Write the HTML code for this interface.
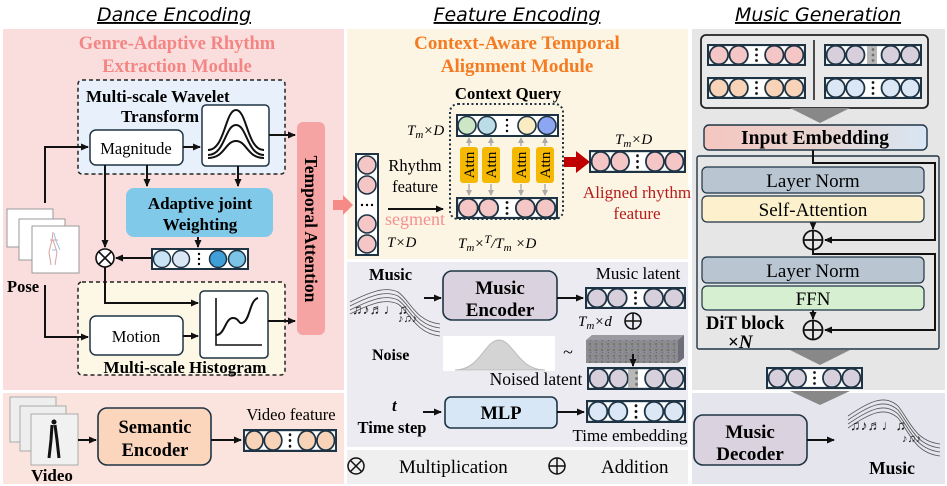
<!DOCTYPE html>
<html><head><meta charset="utf-8"><style>
body{margin:0;background:#fff}
svg{display:block}
.s{font-family:"Liberation Serif",serif}
.b{font-weight:bold}
.t{font-family:"DejaVu Sans","Liberation Sans",sans-serif;font-style:italic;font-size:19px;text-decoration:underline}
</style></head><body>
<svg width="947" height="486" viewBox="0 0 947 486" xmlns="http://www.w3.org/2000/svg">
<defs>
<symbol id="bar" viewBox="0 0 100 22" preserveAspectRatio="none">
<rect x="1" y="1" width="98" height="20" fill="#fff" stroke="#1e3445" stroke-width="2.2"/>
<circle cx="12" cy="11" r="9.3" stroke="#1e3445" stroke-width="1.8"/>
<circle cx="32" cy="11" r="9.3" stroke="#1e3445" stroke-width="1.8"/>
<circle cx="68" cy="11" r="9.3" stroke="#1e3445" stroke-width="1.8"/>
<circle cx="88" cy="11" r="9.3" stroke="#1e3445" stroke-width="1.8"/>
<circle cx="50" cy="5.5" r="1.4" fill="#111"/><circle cx="50" cy="11" r="1.4" fill="#111"/><circle cx="50" cy="16.5" r="1.4" fill="#111"/>
</symbol>
<marker id="a" markerWidth="8" markerHeight="8" refX="7" refY="4" orient="auto" markerUnits="userSpaceOnUse"><path d="M0,0.5 L8,4 L0,7.5z" fill="#111"/></marker>
<marker id="g" markerWidth="6" markerHeight="6" refX="5" refY="3" orient="auto" markerUnits="userSpaceOnUse"><path d="M0,0 L6,3 L0,6z" fill="#aaa"/></marker>
<pattern id="nz" width="6" height="6" patternUnits="userSpaceOnUse"><rect width="6" height="6" fill="#8a8a90"/><rect x="1" y="1" width="2" height="2" fill="#6c7a66"/><rect x="4" y="3" width="1" height="2" fill="#a08c9a"/><rect x="2" y="4" width="1" height="1" fill="#5f6a80"/></pattern>
<linearGradient id="ie" x1="0" x2="1"><stop offset="0" stop-color="#f5c6c0"/><stop offset="0.5" stop-color="#e8d4cf"/><stop offset="1" stop-color="#d8e6f4"/></linearGradient>
</defs>

<!-- titles -->
<text x="174" y="21" text-anchor="middle" class="t">Dance Encoding</text>
<text x="517" y="21" text-anchor="middle" class="t">Feature Encoding</text>
<text x="818" y="21" text-anchor="middle" class="t">Music Generation</text>

<!-- panels -->
<rect x="3" y="29" width="341" height="361" fill="#f9dedd"/>
<rect x="3" y="393" width="341" height="91" fill="#fbe4dd"/>
<rect x="347" y="29" width="341" height="230" fill="#fdf5e3"/>
<rect x="347" y="262" width="341" height="185" fill="#ebebf1"/>
<rect x="347" y="450" width="341" height="34" fill="#efefef"/>
<rect x="692" y="29" width="253" height="361" fill="#e6e6e6"/>
<rect x="692" y="393" width="253" height="91" fill="#e5e5ee"/>

<!-- ===== LEFT ===== -->
<text x="177" y="49" text-anchor="middle" class="s b" font-size="18.5" fill="#f38584">Genre-Adaptive Rhythm</text>
<text x="177" y="72" text-anchor="middle" class="s b" font-size="18.5" fill="#f38584">Extraction Module</text>

<rect x="78" y="80" width="207" height="94" rx="4" fill="#e8f1fb" stroke="#222" stroke-width="1.5" stroke-dasharray="4,3"/>
<text x="86" y="102" class="s b" font-size="17">Multi-scale Wavelet</text>
<text x="160" y="122" text-anchor="middle" class="s b" font-size="17">Transform</text>
<rect x="90" y="130" width="93" height="35" rx="6" fill="#fff" stroke="#1e3445" stroke-width="1.5"/>
<text x="136" y="154" text-anchor="middle" class="s" font-size="16.5">Magnitude</text>
<rect x="202" y="105" width="67" height="61" rx="4" fill="#fff" stroke="#1e3445" stroke-width="1.5"/>
<g fill="none" stroke="#111" stroke-width="2">
<path d="M208,150 C225,150 225,110 236,110 C247,110 247,150 264,150"/>
<path d="M208,155 C225,155 225,125 236,125 C247,125 247,155 264,155"/>
<path d="M208,158 C225,158 225,141 236,141 C247,141 247,158 264,158"/>
</g>

<rect x="297" y="122" width="28" height="213" rx="6" fill="#f5a3a3"/>
<text transform="translate(305,229) rotate(90)" text-anchor="middle" class="s b" font-size="17.5">Temporal Attention</text>

<rect x="78" y="282" width="207" height="93" rx="4" fill="#fdf8e6" stroke="#222" stroke-width="1.5" stroke-dasharray="4,3"/>
<rect x="200" y="291" width="68" height="67" rx="4" fill="#fff" stroke="#1e3445" stroke-width="1.5"/>
<path d="M216,298 V345 H262" fill="none" stroke="#111" stroke-width="1.6"/>
<path d="M216,335 C225,335 225,318 233,318 C240,318 238,326 244,322 C250,318 250,300 258,298" fill="none" stroke="#111" stroke-width="2"/>
<rect x="90" y="316" width="93" height="39" rx="6" fill="#fff" stroke="#1e3445" stroke-width="1.5"/>
<text x="136" y="342" text-anchor="middle" class="s" font-size="16.5">Motion</text>
<text x="185" y="373" text-anchor="middle" class="s b" font-size="17">Multi-scale Histogram</text>

<rect x="126" y="188" width="147" height="49" rx="8" fill="#80c9e9"/>
<text x="200" y="209" text-anchor="middle" class="s b" font-size="17">Adaptive joint</text>
<text x="200" y="230" text-anchor="middle" class="s b" font-size="17">Weighting</text>

<g>
<rect x="152" y="249" width="96" height="20" fill="#fff" stroke="#1e3445" stroke-width="2"/>
<circle cx="162" cy="259" r="8.5" fill="#c9e3f4" stroke="#1e3445" stroke-width="1.5"/>
<circle cx="181" cy="259" r="8.5" fill="#dbe6f4" stroke="#1e3445" stroke-width="1.5"/>
<circle cx="218" cy="259" r="8.5" fill="#3f9fd6" stroke="#1e3445" stroke-width="1.5"/>
<circle cx="237" cy="259" r="8.5" fill="#7cc3e6" stroke="#1e3445" stroke-width="1.5"/>
<circle cx="199" cy="254" r="1.2"/><circle cx="199" cy="259" r="1.2"/><circle cx="199" cy="264" r="1.2"/>
</g>

<circle cx="105" cy="258" r="9" fill="#fff" stroke="#111" stroke-width="1.6"/>
<path d="M99,252 L111,264 M111,252 L99,264" stroke="#111" stroke-width="1.6"/>

<!-- pose images -->
<rect x="7" y="209" width="46" height="38" fill="#fff" stroke="#999" stroke-width="1"/>
<rect x="19" y="219" width="46" height="41" fill="#fff" stroke="#999" stroke-width="1"/>
<rect x="32" y="226" width="47" height="47" fill="#fff" stroke="#999" stroke-width="1"/>
<path d="M53,232 L52,240 L49,252 L51,265 M53,240 L57,252 L55,265 M50,240 L58,240" fill="none" stroke="#d9a0a0" stroke-width="1"/>
<path d="M54,233 L56,241 L60,250 M52,250 L56,250" fill="none" stroke="#9cc4dc" stroke-width="1"/>
<text x="7" y="292" class="s b" font-size="16.5">Pose</text>

<g fill="none" stroke="#111" stroke-width="2">
<path d="M45,203 V147 H88" marker-end="url(#a)"/>
<path d="M45,285 V337 H88" marker-end="url(#a)"/>
<path d="M183,147 H200" marker-end="url(#a)"/>
<path d="M269,135 H295" marker-end="url(#a)"/>
<path d="M147,165 V186" marker-end="url(#a)"/>
<path d="M238,166 V186" marker-end="url(#a)"/>
<path d="M198,237 V247" marker-end="url(#a)"/>
<path d="M105,165 V247" marker-end="url(#a)"/>
<path d="M151,258 H116" marker-end="url(#a)"/>
<path d="M105,267 V303 H198" marker-end="url(#a)"/>
<path d="M183,336 H198" marker-end="url(#a)"/>
<path d="M268,321 H295" marker-end="url(#a)"/>
</g>

<!-- video -->
<rect x="10" y="397" width="46" height="45" fill="#eee" stroke="#aaa"/>
<rect x="20" y="406" width="46" height="45" fill="#eee" stroke="#aaa"/>
<rect x="31" y="414" width="47" height="51" fill="#f1f1f1" stroke="#aaa"/>
<path d="M52,425 L51,440 L49,458 M55,425 L57,440 L59,458" stroke="#111" stroke-width="3"/>
<circle cx="54" cy="422" r="2.5" fill="#111"/>
<text x="52" y="481" text-anchor="middle" class="s b" font-size="17">Video</text>
<rect x="98" y="408" width="113" height="57" rx="9" fill="#fbd6bd" stroke="#1e3445" stroke-width="1.6"/>
<text x="155" y="433" text-anchor="middle" class="s b" font-size="18.5">Semantic</text>
<text x="155" y="456" text-anchor="middle" class="s b" font-size="18.5">Encoder</text>
<text x="291" y="420" text-anchor="middle" class="s" font-size="16.5">Video feature</text>
<use href="#bar" x="243" y="429" width="94" height="23" fill="#f9d3b8"/>
<g fill="none" stroke="#111" stroke-width="2">
<path d="M78,440 H96" marker-end="url(#a)"/>
<path d="M211,440 H241" marker-end="url(#a)"/>
</g>

<!-- ===== MIDDLE TOP ===== -->
<text x="517" y="49" text-anchor="middle" class="s b" font-size="19" fill="#f47b22">Context-Aware Temporal</text>
<text x="517" y="72" text-anchor="middle" class="s b" font-size="19" fill="#f47b22">Alignment Module</text>
<text x="508" y="99" text-anchor="middle" class="s b" font-size="16.7">Context Query</text>
<rect x="450" y="104" width="113" height="115" rx="8" fill="none" stroke="#1e3445" stroke-width="2" stroke-dasharray="2,2.5"/>
<rect x="457" y="115" width="101" height="21" fill="#fff" stroke="#1e3445" stroke-width="2"/>
<circle cx="467" cy="125.5" r="9" fill="#cce6c6" stroke="#1e3445" stroke-width="1.6"/>
<circle cx="487" cy="125.5" r="9" fill="#bcdce8" stroke="#1e3445" stroke-width="1.6"/>
<circle cx="527" cy="125.5" r="9" fill="#fbecc4" stroke="#1e3445" stroke-width="1.6"/>
<circle cx="547" cy="125.5" r="9" fill="#8ca6f4" stroke="#1e3445" stroke-width="1.6"/>
<rect x="499" y="116" width="16" height="19" fill="#fff"/>
<circle cx="507" cy="120" r="1.2"/><circle cx="507" cy="125.5" r="1.2"/><circle cx="507" cy="131" r="1.2"/>
<use href="#bar" x="456" y="197" width="102" height="22" fill="#f5c6c6"/>
<g>
<rect x="460" y="147" width="18" height="36" rx="3" fill="#f6b902"/>
<rect x="482" y="147" width="18" height="36" rx="3" fill="#f6b902"/>
<rect x="512" y="147" width="18" height="36" rx="3" fill="#f6b902"/>
<rect x="536" y="147" width="18" height="36" rx="3" fill="#f6b902"/>
<text transform="translate(474,165) rotate(-90)" text-anchor="middle" class="s" font-size="15">Attn</text>
<text transform="translate(496,165) rotate(-90)" text-anchor="middle" class="s" font-size="15">Attn</text>
<text transform="translate(526,165) rotate(-90)" text-anchor="middle" class="s" font-size="15">Attn</text>
<text transform="translate(550,165) rotate(-90)" text-anchor="middle" class="s" font-size="15">Attn</text>
</g>
<g stroke="#aaa" stroke-width="1.4">
<path d="M469,146 V138" marker-end="url(#g)"/><path d="M491,146 V138" marker-end="url(#g)"/><path d="M521,146 V138" marker-end="url(#g)"/><path d="M545,146 V138" marker-end="url(#g)"/>
<path d="M469,184 V195" marker-end="url(#g)"/><path d="M491,184 V195" marker-end="url(#g)"/><path d="M521,184 V195" marker-end="url(#g)"/><path d="M545,184 V195" marker-end="url(#g)"/>
</g>
<text x="407" y="135" class="s" font-size="15" font-style="italic">T<tspan font-size="11" dy="3">m</tspan><tspan dy="-3">×D</tspan></text>

<!-- vertical rhythm bar -->
<path d="M333,200 H343 V195 L353,205 L343,215 V210 H333z" fill="#f58a86"/>
<rect x="356" y="154" width="22" height="101" fill="#fff" stroke="#1e3445" stroke-width="2"/>
<circle cx="367" cy="165" r="9" fill="#f5c6c6" stroke="#1e3445" stroke-width="1.6"/>
<circle cx="367" cy="185" r="9" fill="#f5c6c6" stroke="#1e3445" stroke-width="1.6"/>
<circle cx="367" cy="224" r="9" fill="#f5c6c6" stroke="#1e3445" stroke-width="1.6"/>
<circle cx="367" cy="244" r="9" fill="#f5c6c6" stroke="#1e3445" stroke-width="1.6"/>
<circle cx="362" cy="205" r="1.2"/><circle cx="367" cy="205" r="1.2"/><circle cx="372" cy="205" r="1.2"/>
<text x="415" y="171" text-anchor="middle" class="s" font-size="16.5">Rhythm</text>
<text x="415" y="192" text-anchor="middle" class="s" font-size="16.5">feature</text>
<path d="M388,209 H443" stroke="#111" stroke-width="2" marker-end="url(#a)"/>
<text x="415" y="225" text-anchor="middle" class="s" font-size="18" fill="#f59090">segment</text>
<text x="387" y="247" class="s" font-size="15" font-style="italic">T×D</text>
<text x="458" y="248" class="s" font-size="15" font-style="italic">T<tspan font-size="11" dy="3">m</tspan><tspan dy="-3">×</tspan><tspan font-size="12" dy="-5">T</tspan><tspan dy="5">/T</tspan><tspan font-size="11" dy="3">m</tspan><tspan dy="-3"> ×D</tspan></text>

<path d="M564,157 H576 V151 L590,162 L576,173 V167 H564z" fill="#c00000"/>
<text x="615" y="144" class="s" font-size="15" font-style="italic">T<tspan font-size="11" dy="3">m</tspan><tspan dy="-3">×D</tspan></text>
<use href="#bar" x="589" y="150" width="97" height="23" fill="#f5c6c6"/>
<text x="637" y="198" text-anchor="middle" class="s" font-size="17" fill="#b51c1c">Aligned rhythm</text>
<text x="637" y="219" text-anchor="middle" class="s" font-size="17" fill="#b51c1c">feature</text>

<!-- ===== MIDDLE MID ===== -->
<text x="369" y="280" class="s b" font-size="16.5">Music</text>
<g stroke="#555" stroke-width="0.8" fill="none">
<path d="M350,306 C370,296 385,290 398,296 C410,304 415,325 440,328"/>
<path d="M350,310 C370,300 385,294 398,300 C410,308 415,329 440,332"/>
<path d="M350,314 C370,304 385,298 398,304 C410,312 415,333 440,336"/>
<path d="M350,302 C370,292 385,286 398,292 C410,300 415,321 440,324"/>
</g>
<text x="352" y="314" font-size="14" fill="#222">♫♪♬♩♫</text>
<text x="398" y="322" font-size="11" fill="#222">♪♫♪</text>
<path d="M424,298 H441" stroke="#111" stroke-width="2" marker-end="url(#a)"/>
<rect x="443" y="271" width="114" height="49" rx="9" fill="#dad3df" stroke="#1e3445" stroke-width="1.6"/>
<text x="500" y="294" text-anchor="middle" class="s b" font-size="19">Music</text>
<text x="500" y="316" text-anchor="middle" class="s b" font-size="19">Encoder</text>
<path d="M557,298 H583" stroke="#111" stroke-width="2" marker-end="url(#a)"/>
<text x="638" y="279" text-anchor="middle" class="s" font-size="17">Music latent</text>
<use href="#bar" x="585" y="287" width="101" height="22" fill="#d7cfdc"/>
<text x="578" y="326" class="s" font-size="15" font-style="italic">T<tspan font-size="11" dy="3">m</tspan><tspan dy="-3">×d</tspan></text>
<circle cx="633" cy="321" r="8" fill="none" stroke="#111" stroke-width="1.6"/>
<path d="M625,321 H641 M633,313 V329" stroke="#111" stroke-width="1.6"/>

<text x="372" y="360" class="s b" font-size="16">Noise</text>
<rect x="443" y="336" width="112" height="35" fill="#fff"/>
<path d="M455,370 C480,370 485,340 499,340 C513,340 518,370 545,370z" fill="#d4d4d4" stroke="#bbb"/>
<text x="568" y="358" text-anchor="middle" class="s" font-size="18">~</text>
<path d="M586,340 L592,335 H684 L678,340z" fill="#9a9aa0"/>
<path d="M678,340 L684,335 V358 L678,363z" fill="#6e6e76"/>
<rect x="586" y="340" width="92" height="23" fill="url(#nz)"/>
<path d="M633,354 V366" stroke="#111" stroke-width="2" marker-end="url(#a)"/>
<text x="536" y="385" text-anchor="middle" class="s" font-size="17.5">Noised latent</text>
<use href="#bar" x="587" y="367" width="99" height="23" fill="#d7cfdc"/>
<rect x="628" y="369" width="10" height="19" fill="#9a9a9a" opacity="0.7"/>

<text x="392" y="411" class="s b" font-size="16.5" font-style="italic">t</text>
<text x="392" y="433" text-anchor="middle" class="s b" font-size="16.5">Time step</text>
<path d="M423,412 H441" stroke="#111" stroke-width="2" marker-end="url(#a)"/>
<rect x="445" y="397" width="112" height="31" rx="6" fill="#d8e7f5" stroke="#1e3445" stroke-width="1.6"/>
<text x="501" y="419" text-anchor="middle" class="s b" font-size="18.5">MLP</text>
<path d="M557,412 H584" stroke="#111" stroke-width="2" marker-end="url(#a)"/>
<use href="#bar" x="586" y="400" width="100" height="23" fill="#dbe7f5"/>
<text x="630" y="441" text-anchor="middle" class="s" font-size="17">Time embedding</text>

<!-- legend -->
<circle cx="356" cy="466" r="8" fill="none" stroke="#111" stroke-width="1.5"/>
<path d="M350.5,460.5 L361.5,471.5 M361.5,460.5 L350.5,471.5" stroke="#111" stroke-width="1.5"/>
<text x="399" y="473" class="s" font-size="19">Multiplication</text>
<circle cx="557" cy="466" r="8" fill="none" stroke="#111" stroke-width="1.5"/>
<path d="M549,466 H565 M557,458 V474" stroke="#111" stroke-width="1.5"/>
<text x="601" y="473" class="s" font-size="19">Addition</text>

<!-- ===== RIGHT ===== -->
<rect x="701" y="35" width="227" height="73" rx="5" fill="#e9e9e9" stroke="#222" stroke-width="1.8"/>
<use href="#bar" x="707" y="44" width="99" height="22" fill="#f5c6c6"/>
<use href="#bar" x="707" y="77" width="99" height="22" fill="#f9d3b8"/>
<path d="M814,40 V100" stroke="#222" stroke-width="1.6"/>
<rect x="824" y="44" width="98" height="22" fill="url(#nz)" opacity="0.6"/>
<use href="#bar" x="824" y="44" width="98" height="22" fill="#d7cfdc"/>
<rect x="867" y="46" width="10" height="18" fill="#9a9a9a" opacity="0.7"/>
<use href="#bar" x="824" y="77" width="98" height="22" fill="#dbe7f5"/>
<path d="M790,108 H850 L820,123z" fill="#888"/>
<rect x="704" y="125" width="223" height="25" rx="5" fill="url(#ie)" stroke="#1e3445" stroke-width="1.4"/>
<text x="815" y="144" text-anchor="middle" class="s b" font-size="19.5">Input Embedding</text>

<rect x="697" y="156" width="242" height="193" rx="2" fill="none" stroke="#1e3445" stroke-width="1.4"/>
<g fill="none" stroke="#111" stroke-width="2">
<path d="M813,150 V163 H935 V240 H825" marker-end="url(#a)"/>
<path d="M813,250 V254 H935 V330 H825" marker-end="url(#a)"/>
<path d="M813,222 V229" marker-end="url(#a)"/>
<path d="M813,309 V319" marker-end="url(#a)"/>
</g>
<rect x="702" y="167" width="222" height="26" rx="5" fill="#b9c6d2" stroke="#1e3445" stroke-width="1.2"/>
<text x="813" y="187" text-anchor="middle" class="s" font-size="19">Layer Norm</text>
<rect x="702" y="196" width="222" height="26" rx="5" fill="#fcf1cc" stroke="#1e3445" stroke-width="1.2"/>
<text x="813" y="216" text-anchor="middle" class="s" font-size="19">Self-Attention</text>
<circle cx="813" cy="240" r="9.5" fill="none" stroke="#111" stroke-width="1.8"/>
<path d="M803.5,240 H822.5 M813,230.5 V249.5" stroke="#111" stroke-width="1.8"/>
<rect x="702" y="257" width="222" height="26" rx="5" fill="#b9c6d2" stroke="#1e3445" stroke-width="1.2"/>
<text x="813" y="277" text-anchor="middle" class="s" font-size="19">Layer Norm</text>
<rect x="702" y="286" width="222" height="24" rx="5" fill="#d6efd1" stroke="#1e3445" stroke-width="1.2"/>
<text x="813" y="305" text-anchor="middle" class="s" font-size="19">FFN</text>
<circle cx="813" cy="330" r="9.5" fill="none" stroke="#111" stroke-width="1.8"/>
<path d="M803.5,330 H822.5 M813,320.5 V339.5" stroke="#111" stroke-width="1.8"/>
<text x="706" y="329" class="s b" font-size="18.5">DiT block</text>
<text x="728" y="348" class="s b" font-size="19">×<tspan font-style="italic">N</tspan></text>

<path d="M790,350 H850 L820,365z" fill="#888"/>
<use href="#bar" x="766" y="367" width="97" height="22" fill="#d7cfdc"/>
<path d="M790,391 H850 L820,405z" fill="#888"/>

<rect x="694" y="415" width="113" height="50" rx="9" fill="#dad3df" stroke="#1e3445" stroke-width="1.6"/>
<text x="750" y="438" text-anchor="middle" class="s b" font-size="19">Music</text>
<text x="750" y="460" text-anchor="middle" class="s b" font-size="19">Decoder</text>
<path d="M807,440 H834" stroke="#111" stroke-width="2" marker-end="url(#a)"/>
<g stroke="#555" stroke-width="0.8" fill="none">
<path d="M848,420 C870,405 885,398 898,410 C910,425 915,445 940,448"/>
<path d="M848,424 C870,409 885,402 898,414 C910,429 915,449 940,452"/>
<path d="M848,428 C870,413 885,406 898,418 C910,433 915,453 940,456"/>
<path d="M848,416 C870,401 885,394 898,406 C910,421 915,441 940,444"/>
</g>
<text x="850" y="430" font-size="14" fill="#222">♫♪♬♩♫</text>
<text x="902" y="442" font-size="11" fill="#222">♪♫♪</text>
<text x="892" y="474" text-anchor="middle" class="s b" font-size="17.5">Music</text>
</svg>
</body></html>
